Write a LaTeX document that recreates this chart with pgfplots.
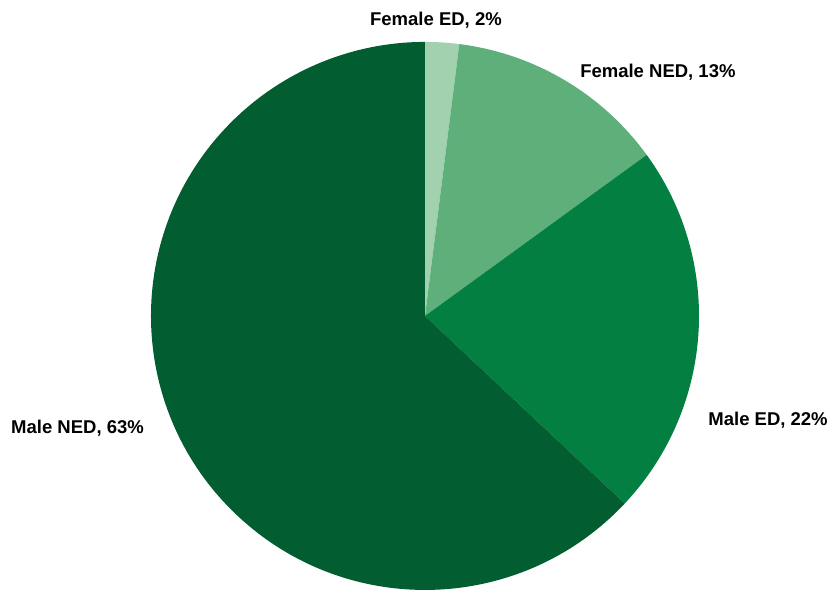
\documentclass[border=0pt]{standalone}
\usepackage{pgfplots}
\pgfplotsset{compat=1.18}
\usepackage{pgfplotstable}
\usepackage{fontspec}
\setmainfont{Liberation Sans}

\definecolor{femED}{HTML}{A1D1AE}
\definecolor{femNED}{HTML}{5EAF7A}
\definecolor{maleED}{HTML}{038041}
\definecolor{maleNED}{HTML}{025E31}

% share of each group, in per cent, clockwise from 12 o'clock
\pgfplotstableread{
group   share
FemED   2
FemNED  13
MaleED  22
MaleNED 63
}\pietable

\tikzset{lbl/.style={font=\fontsize{18.5bp}{20bp}\selectfont\bfseries, inner sep=0pt}}

\begin{document}
\begin{tikzpicture}
	\pgfplotstablegetelem{0}{share}\of\pietable \let\sA\pgfplotsretval
	\pgfplotstablegetelem{1}{share}\of\pietable \let\sB\pgfplotsretval
	\pgfplotstablegetelem{2}{share}\of\pietable \let\sC\pgfplotsretval
	\pgfplotstablegetelem{3}{share}\of\pietable \let\sD\pgfplotsretval
	\pgfmathsetmacro\aA{90}
	\pgfmathsetmacro\aB{\aA-3.6*\sA}
	\pgfmathsetmacro\aC{\aB-3.6*\sB}
	\pgfmathsetmacro\aD{\aC-3.6*\sC}
	\pgfmathsetmacro\aE{\aD-3.6*\sD}
	\begin{axis}[
		x=274bp, y=274bp,
		xmin=-1.551, xmax=1.489,
		ymin=-1.0, ymax=1.153,
		hide axis, clip=false, scale only axis,
	]
		\fill[femED]   (axis cs:0,0) -- ++(\aA:274bp) arc[start angle=\aA, end angle=\aB, radius=274bp] -- cycle;
		\fill[femNED]  (axis cs:0,0) -- ++(\aB:274bp) arc[start angle=\aB, end angle=\aC, radius=274bp] -- cycle;
		\fill[maleED]  (axis cs:0,0) -- ++(\aC:274bp) arc[start angle=\aC, end angle=\aD, radius=274bp] -- cycle;
		\fill[maleNED] (axis cs:0,0) -- ++(\aD:274bp) arc[start angle=\aD, end angle=\aE, radius=274bp] -- cycle;

		\node[lbl] at (axis cs:0.040,1.080)   {Female ED, \sA\%};
		\node[lbl] at (axis cs:0.850,0.891)   {Female NED, \sB\%};
		\node[lbl] at (axis cs:1.252,-0.380)  {Male ED, \sC\%};
		\node[lbl] at (axis cs:-1.268,-0.409) {Male NED, \sD\%};
	\end{axis}
	\pgfresetboundingbox
	\path (current axis.south west) rectangle (current axis.north east);
\end{tikzpicture}
\end{document}
